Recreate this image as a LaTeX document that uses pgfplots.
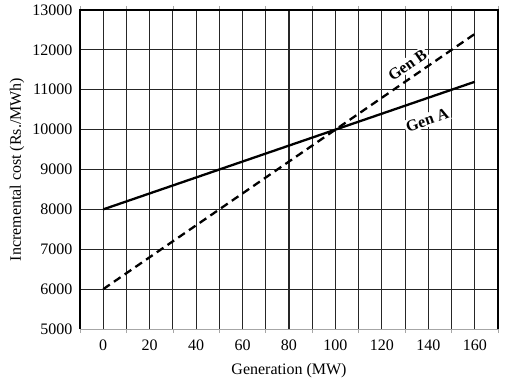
\documentclass[border=0pt]{standalone}
\usepackage{fontspec}
\setmainfont{Liberation Serif}
\usepackage{pgfplots}
\pgfplotsset{compat=1.18}
\begin{document}
\begin{tikzpicture}
\useasboundingbox (-80pt,-57pt) rectangle (437pt,329pt);
\begin{axis}[
  scale only axis, width=418pt, height=319pt,
  at={(0pt,0pt)}, anchor=south west,
  xmin=-10, xmax=170, ymin=5000, ymax=13000,
  axis line style={draw=none},
  xtick={0,20,...,160}, minor xtick={10,30,...,150},
  ytick={6000,7000,...,12000},
  extra y ticks={5000,13000},
  extra y tick style={grid=none},
  extra x ticks={-10,10,...,170}, extra x tick labels={},
  extra x tick style={grid=none, major tick length=4pt, tick align=outside, tick style={gray!70, line width=0.6pt}},
  grid=both,
  major grid style={black!85, line width=1.2pt},
  minor grid style={black!85, line width=1.2pt},
  major tick length=0pt, minor tick length=0pt,
  scaled ticks=false,
  /pgf/number format/assume math mode=true,
  /pgf/number format/1000 sep={},
  tick label style={font=\fontsize{16}{18}\selectfont},
  yticklabel style={xshift=-4pt},
  xticklabel style={yshift=-7pt},
  clip=false,
]
\addplot[black, line width=2.3pt] coordinates {(0,8000) (160,11200)};
\addplot[black, line width=2.3pt, dash pattern=on 8pt off 5pt] coordinates {(0,6000) (160,12400)};
\draw[black, line width=1.6pt] (rel axis cs:0,0) -- (rel axis cs:0,1) -- (rel axis cs:1,1) -- (rel axis cs:1,0);
\draw[gray!70, line width=0.8pt] (rel axis cs:0,0) -- (rel axis cs:1,0);
\node[rotate=35, fill=white, inner sep=1.5pt, font=\bfseries\fontsize{16}{18}\selectfont] at (axis cs:131,11621) {Gen B};
\node[rotate=19, fill=white, inner sep=1.5pt, font=\bfseries\fontsize{16}{18}\selectfont] at (axis cs:139.5,10241) {Gen A};
\end{axis}
\node[rotate=90, font=\fontsize{16}{18}\selectfont] at (-63pt,159.5pt) {Incremental cost (Rs./MWh)};
\node[font=\fontsize{16}{18}\selectfont] at (209pt,-42pt) {Generation (MW)};
\end{tikzpicture}
\end{document}
